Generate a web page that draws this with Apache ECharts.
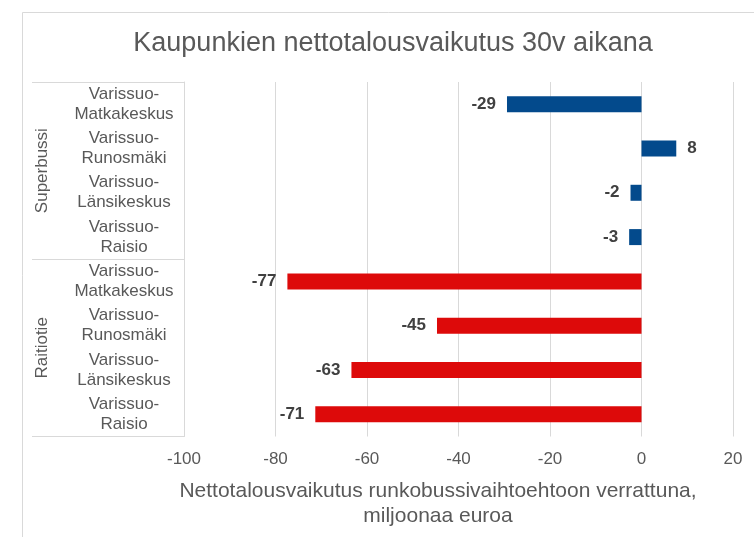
<!DOCTYPE html>
<html><head><meta charset="utf-8">
<script src="https://cdn.jsdelivr.net/npm/echarts@6/dist/echarts.min.js"></script>
<style>html,body{margin:0;padding:0;background:#fff}#c{width:754px;height:537px}</style>
</head><body><div id="c"></div>
<script>
const categories = ['Varissuo-\nMatkakeskus','Varissuo-\nRunosmäki','Varissuo-\nLänsikeskus','Varissuo-\nRaisio',
                    'Varissuo-\nMatkakeskus','Varissuo-\nRunosmäki','Varissuo-\nLänsikeskus','Varissuo-\nRaisio'];
const groups = ['Superbussi', 'Raitiotie'];
const superbussi = [-29.4, 7.6, -2.4, -2.7];
const raitiotie = [-77.4, -44.7, -63.4, -71.3];
const xMin = -100, xMax = 20, xStep = 20;
const titleText = 'Kaupunkien nettotalousvaikutus 30v aikana';
const axisTitle = 'Nettotalousvaikutus runkobussivaihtoehtoon verrattuna,\nmiljoonaa euroa';

const FONT = '"Liberation Sans", Arial, sans-serif';
const TXT = '#595959';
const LINE = '#d9d9d9';

function toItems(vals, offset, total) {
  const out = new Array(total).fill(null);
  vals.forEach((v, i) => {
    out[offset + i] = { value: v, label: { position: v < 0 ? 'left' : 'right' } };
  });
  return out;
}
const n = categories.length;
const labelCfg = {
  show: true, distance: 11, fontFamily: FONT, fontSize: 17, fontWeight: 'bold', color: '#404040',
  formatter: p => String(Math.round(p.value))
};

const chart = echarts.init(document.getElementById('c'), null, { renderer: 'canvas' });
chart.setOption({
  animation: false,
  backgroundColor: '#fff',
  textStyle: { fontFamily: FONT },
  grid: { left: 184, right: 21, top: 82, height: 354.5, containLabel: false },
  xAxis: {
    type: 'value', min: xMin, max: xMax, interval: xStep,
    axisLine: { show: false }, axisTick: { show: false },
    splitLine: { show: true, lineStyle: { color: LINE, width: 1 } },
    axisLabel: { fontFamily: FONT, fontSize: 17, color: TXT, margin: 14 }
  },
  yAxis: [
    {
      type: 'category', data: categories, inverse: true,
      axisLine: { show: false }, axisTick: { show: false }, splitLine: { show: false },
      axisLabel: { margin: 60, align: 'center', fontFamily: FONT, fontSize: 17, lineHeight: 20, color: TXT, interval: 0 }
    },
    {
      type: 'category', data: groups, inverse: true, position: 'left', offset: 0,
      axisLine: { show: true, lineStyle: { color: LINE, width: 1 } },
      axisTick: { show: true, length: 152, interval: 0, lineStyle: { color: LINE, width: 1 } },
      splitLine: { show: false },
      axisLabel: { rotate: 90, margin: 142, align: 'center', verticalAlign: 'middle', interval: 0,
                   fontFamily: FONT, fontSize: 17, color: TXT }
    }
  ],
  series: [
    {
      name: 'Superbussi', type: 'bar', yAxisIndex: 0, barWidth: 16, barGap: '-100%',
      itemStyle: { color: '#034A8C' }, label: labelCfg,
      data: toItems(superbussi, 0, n)
    },
    {
      name: 'Raitiotie', type: 'bar', yAxisIndex: 0, barWidth: 16, barGap: '-100%',
      itemStyle: { color: '#DD0A0A' }, label: labelCfg,
      data: toItems(raitiotie, 4, n)
    }
  ],
  graphic: [
    { type: 'rect', silent: true, z: -1,
      shape: { x: 22.5, y: 12.5, width: 800, height: 600 },
      style: { fill: 'none', stroke: LINE, lineWidth: 1 } },
    { type: 'text', silent: true,
      style: { text: titleText, x: 393, y: 44, align: 'center', verticalAlign: 'middle',
               fontFamily: FONT, fontSize: 27, fill: TXT } },
    { type: 'text', silent: true,
      style: { text: axisTitle, x: 438, y: 504, align: 'center', verticalAlign: 'middle',
               fontFamily: FONT, fontSize: 21, lineHeight: 25, fill: TXT } }
  ]
});
</script></body></html>
